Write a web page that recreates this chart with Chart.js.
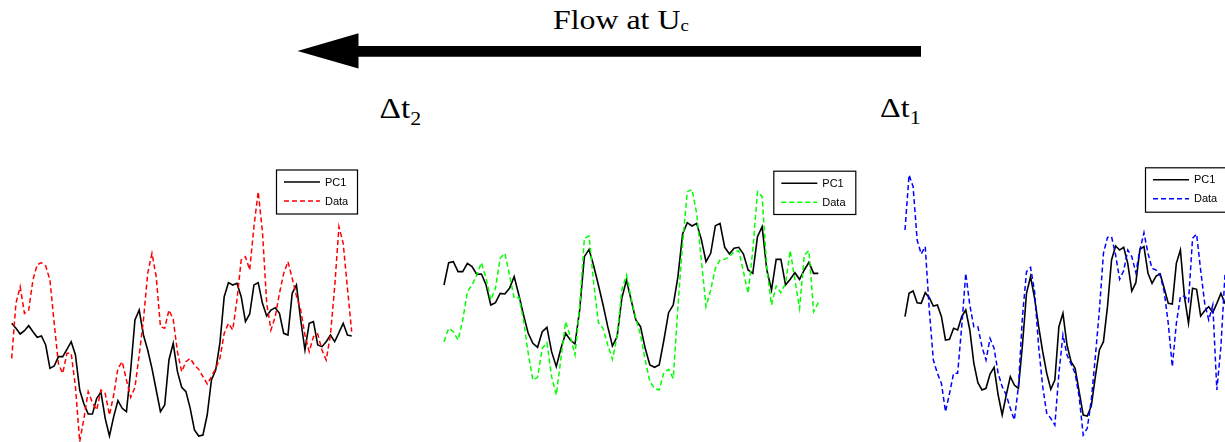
<!DOCTYPE html>
<html>
<head>
<meta charset="utf-8">
<script src="https://cdn.jsdelivr.net/npm/chart.js@4.4.1/dist/chart.umd.min.js"></script>
<style>
  html, body { margin: 0; padding: 0; background: #fff; }
  body { width: 1225px; height: 442px; position: relative; overflow: hidden; }
  #header { position: absolute; left: 0; top: 0; }
  canvas.panel { position: absolute; top: 160px; }
</style>
</head>
<body>
<svg id="header" width="1225" height="160" xmlns="http://www.w3.org/2000/svg">
  <!-- convection arrow -->
  <polygon points="297.5,51 358.5,33.3 358.5,46 921,46 921,56.7 358.5,56.7 358.5,68.5" fill="#000"/>
  <text transform="translate(553,29.3) scale(1.18,1)" font-family="'Liberation Serif','Times New Roman',serif" font-size="27" fill="#000">Flow at U<tspan font-size="16" dy="2">c</tspan></text>
  <text transform="translate(379.5,118.3) scale(1.15,1)" font-family="'Liberation Serif','Times New Roman',serif" font-size="29" fill="#000">Δt<tspan font-size="19" dy="7">2</tspan></text>
  <text transform="translate(880,117) scale(1.15,1)" font-family="'Liberation Serif','Times New Roman',serif" font-size="28" fill="#000">Δt<tspan font-size="19" dy="7">1</tspan></text>
</svg>

<canvas id="probe1" class="panel" width="400" height="282" style="left:0px"></canvas>
<canvas id="probe2" class="panel" width="450" height="282" style="left:420px"></canvas>
<canvas id="probe3" class="panel" width="360" height="282" style="left:880px"></canvas>

<script>
// 81 samples per probe
const sampleIndex = Array.from({ length: 81 }, (_, i) => i);

// Probe 1 (downstream, Δt2)
const pc1Probe1 = [-0.40,-0.55,-0.72,-0.62,-0.47,-0.65,-0.82,-0.78,-1.05,-1.75,-1.68,-1.40,-1.40,-1.18,-0.95,-1.35,-2.40,-2.82,-3.12,-3.12,-2.65,-2.47,-3.25,-3.78,-3.20,-2.72,-2.95,-3.05,-1.80,-0.30,0.00,-0.75,-1.20,-1.75,-2.40,-3.05,-2.85,-1.50,-1.00,-1.85,-2.32,-2.45,-2.95,-3.60,-3.78,-3.75,-3.15,-2.10,-1.80,-0.98,0.40,0.82,0.75,0.80,0.40,-0.35,-0.12,0.75,0.82,0.20,-0.18,0.00,0.07,-0.10,-0.70,-0.75,0.50,0.75,-0.30,-1.20,-0.40,-0.35,-1.05,-1.10,-0.95,-0.75,-0.95,-0.68,-0.40,-0.75,-0.78];
const dataProbe1 = [-1.45,0.20,0.70,-0.10,0.00,0.90,1.36,1.42,1.32,0.90,-0.40,-1.62,-1.90,-1.30,-1.30,-2.30,-3.95,-3.25,-2.45,-2.78,-3.00,-2.40,-2.50,-3.15,-2.55,-1.75,-1.55,-2.10,-2.62,-2.32,-1.35,-0.30,1.10,1.70,1.00,-0.50,-0.55,0.00,-0.28,-1.25,-1.85,-1.55,-1.45,-1.65,-1.78,-2.00,-2.22,-2.00,-1.75,-1.45,-0.70,-0.40,-0.60,0.30,1.50,1.60,1.20,2.50,3.55,2.35,0.20,-0.60,-0.20,0.50,1.10,1.45,0.95,0.42,0.00,-0.75,-1.25,-0.80,-0.72,-1.20,-1.50,-0.75,0.70,2.50,2.00,0.65,-0.65];

// Probe 2 (middle)
const pc1Probe2 = [0.75,1.42,1.45,1.15,1.15,1.40,1.30,1.07,1.08,0.75,0.15,0.22,0.50,0.48,0.65,1.00,0.45,-0.15,-0.70,-1.00,-1.12,-0.65,-0.52,-1.25,-1.70,-1.15,-0.70,-0.90,-1.02,0.00,1.60,1.82,1.32,0.75,0.15,-0.50,-1.08,-0.80,0.35,0.90,0.30,-0.30,-0.50,-1.15,-1.65,-1.72,-1.65,-0.90,-0.08,0.15,1.00,2.28,2.62,2.52,2.60,2.12,1.45,1.70,2.53,2.60,1.88,1.68,1.85,1.88,1.68,1.20,1.10,2.20,2.50,1.20,0.60,1.52,1.52,0.75,0.92,1.12,0.92,1.20,1.43,1.10,1.10];
const dataProbe2 = [-0.95,-0.55,-0.65,-0.90,-0.30,0.55,0.75,1.05,1.42,0.95,0.30,0.65,1.55,1.70,1.05,0.35,0.38,-0.30,-1.30,-2.10,-2.02,-1.15,-0.98,-2.00,-2.55,-1.45,-0.35,-0.80,-1.35,0.10,2.15,2.22,0.80,-0.38,-0.55,-1.05,-1.48,-0.80,0.60,1.05,0.35,-0.25,-0.75,-1.50,-2.15,-2.35,-2.40,-1.88,-1.78,-2.05,0.10,2.00,3.55,3.62,2.90,1.50,0.10,0.60,1.25,1.50,1.52,1.60,1.75,1.78,1.15,0.50,1.80,3.55,3.40,1.25,0.15,0.72,0.52,0.80,1.78,0.90,0.05,1.65,1.78,-0.05,0.22];

// Probe 3 (upstream, Δt1)
const pc1Probe3 = [-0.20,0.50,0.57,0.22,0.20,0.52,0.37,0.12,0.15,-0.20,-0.90,-0.88,-0.55,-0.60,-0.20,0.00,-0.60,-1.60,-2.18,-2.40,-2.35,-1.92,-1.72,-2.55,-3.15,-2.55,-2.00,-2.25,-2.35,-1.05,0.50,1.00,0.35,-0.50,-1.25,-1.90,-2.38,-2.10,-0.50,-0.10,-1.05,-1.55,-1.75,-2.45,-3.15,-3.18,-2.88,-2.00,-1.20,-0.95,0.10,1.50,1.92,1.80,1.88,1.40,0.57,0.82,1.82,1.90,1.10,0.80,1.02,1.08,0.65,0.20,0.18,1.40,1.80,0.40,-0.40,0.65,0.62,-0.18,-0.02,0.10,-0.08,0.20,0.50,0.20,0.10];
const dataProbe3 = [2.40,4.05,3.70,2.10,1.68,1.90,0.00,-1.50,-1.90,-2.20,-3.05,-2.50,-1.90,-1.90,-0.50,1.10,0.15,-0.50,-0.50,-1.10,-1.50,-0.85,-1.15,-1.90,-2.30,-2.55,-2.95,-3.30,-2.30,-0.20,1.15,1.28,0.55,-1.10,-2.30,-3.10,-3.25,-3.45,-1.90,-0.75,-1.35,-1.62,-1.90,-2.60,-3.75,-3.55,-2.70,-1.40,0.00,1.70,2.18,2.20,1.65,0.92,1.18,1.80,1.60,1.12,1.80,2.32,1.70,1.25,1.20,1.05,0.55,-0.40,-1.70,-0.40,0.40,0.42,0.25,2.15,2.28,1.20,0.20,-0.30,0.15,-2.40,-1.10,1.05,1.50];

const seriesLabels = ['PC1', 'Data'];
const Y_MIN = -3.96;
const Y_MAX = 4.5;

// Boxed legend drawn inside the panel, one row per dataset
const boxLegend = {
  id: 'boxLegend',
  afterDraw(chart, args, opts) {
    const { ctx } = chart;
    const { left, top, width, height } = opts;
    ctx.save();
    ctx.fillStyle = '#fff';
    ctx.fillRect(left, top, width, height);
    ctx.strokeStyle = '#000';
    ctx.lineWidth = 1.2;
    ctx.strokeRect(left + 0.5, top + 0.5, width, height);
    chart.data.datasets.forEach((ds, k) => {
      const y = top + 12.5 + k * 19;
      ctx.beginPath();
      ctx.setLineDash(ds.borderDash || []);
      ctx.strokeStyle = ds.borderColor;
      ctx.lineWidth = ds.borderWidth;
      ctx.moveTo(left + 8, y);
      ctx.lineTo(left + 44, y);
      ctx.stroke();
      ctx.setLineDash([]);
      ctx.fillStyle = '#000';
      ctx.font = '11px "Liberation Sans", Arial, sans-serif';
      ctx.textBaseline = 'middle';
      ctx.textAlign = 'left';
      ctx.fillText(ds.label, left + 49, y + 0.5);
    });
    ctx.restore();
  }
};

function makePanel(id, pc1, data, color, padding, legendBox) {
  return new Chart(document.getElementById(id), {
    type: 'line',
    data: {
      labels: sampleIndex,
      datasets: [
        { label: seriesLabels[0], data: pc1, borderColor: '#000', borderWidth: 1.6, order: 1, clip: false },
        { label: seriesLabels[1], data: data, borderColor: color, borderWidth: 1.5, borderDash: [5, 3], order: 0, clip: false }
      ]
    },
    options: {
      responsive: false,
      animation: false,
      devicePixelRatio: 1,
      events: [],
      layout: { padding },
      elements: { point: { radius: 0 }, line: { tension: 0, fill: false } },
      scales: {
        x: { display: false },
        y: { display: false, min: Y_MIN, max: Y_MAX }
      },
      plugins: {
        legend: { display: false },
        tooltip: { enabled: false },
        boxLegend: legendBox
      }
    },
    plugins: [boxLegend]
  });
}

makePanel('probe1', pc1Probe1, dataProbe1, '#ff0000',
  { left: 11.7, right: 48.3, top: 0, bottom: 0 },
  { left: 276, top: 9.5, width: 81, height: 44 });

makePanel('probe2', pc1Probe2, dataProbe2, '#00ff00',
  { left: 24, right: 51.7, top: 0, bottom: 0 },
  { left: 353.3, top: 10.7, width: 82, height: 43.3 });

makePanel('probe3', pc1Probe3, dataProbe3, '#0000ff',
  { left: 25, right: 11, top: 0, bottom: 0 },
  { left: 265, top: 7.3, width: 81, height: 44.4 });
</script>
</body>
</html>
